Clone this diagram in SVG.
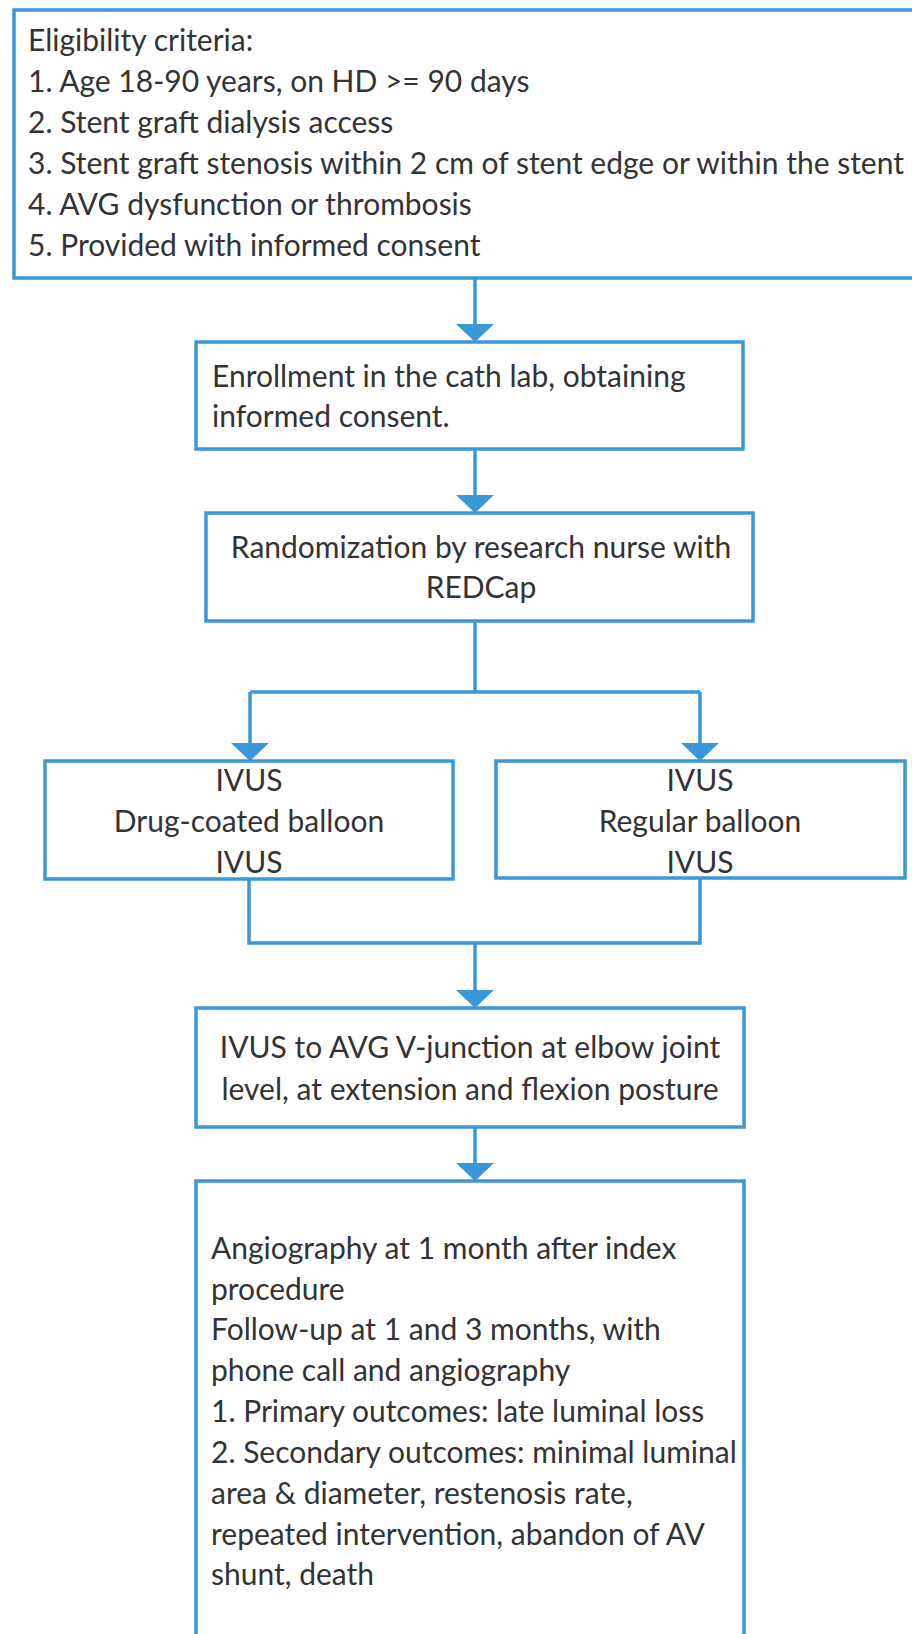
<svg xmlns="http://www.w3.org/2000/svg" width="912" height="1634" viewBox="0 0 912 1634">
<style>
.box{fill:#ffffff;stroke:#3a98d9;stroke-width:3.5}
.con{fill:none;stroke:#3a98d9;stroke-width:3.5}
.head{fill:#3a98d9}
text{font-family:Lato,"Liberation Sans",sans-serif;fill:#333333;font-size:30px}
.c{text-anchor:middle}
</style>
<defs>
<path id="ah" d="M-19,-18 H19 L0,0 Z"/>
</defs>
<rect x="0" y="0" width="912" height="1634" fill="#ffffff"/>
<g id="connectors">
<path class="con" d="M475,278 V326"/>
<use href="#ah" class="head" x="475" y="342"/>
<path class="con" d="M475,449 V497"/>
<use href="#ah" class="head" x="475" y="513"/>
<path class="con" d="M475,621 V692 M250,692 H700 M250,692 V745 M700,692 V745"/>
<use href="#ah" class="head" x="250" y="761"/>
<use href="#ah" class="head" x="700" y="761"/>
<path class="con" d="M249,879 V943 H700 V878 M475,943 V992"/>
<use href="#ah" class="head" x="475" y="1008"/>
<path class="con" d="M475,1127 V1165"/>
<use href="#ah" class="head" x="475" y="1181"/>
</g>
<g id="eligibility">
<rect class="box" x="14" y="10" width="910" height="268"/>
<text x="28" y="51">Eligibility criteria:</text>
<text x="28" y="92">1. Age 18-90 years, on HD &gt;= 90 days</text>
<text x="28" y="133">2. Stent graft dialysis access</text>
<text x="28" y="174">3. Stent graft stenosis within 2 cm of stent edge or within the stent</text>
<text x="28" y="215">4. AVG dysfunction or thrombosis</text>
<text x="28" y="256">5. Provided with informed consent</text>
</g>
<g id="enrollment">
<rect class="box" x="196" y="342" width="547" height="107"/>
<text x="212" y="387">Enrollment in the cath lab, obtaining</text>
<text x="212" y="427">informed consent.</text>
</g>
<g id="randomization">
<rect class="box" x="206" y="513" width="547" height="108"/>
<text class="c" x="481" y="558">Randomization by research nurse with</text>
<text class="c" x="481" y="598">REDCap</text>
</g>
<g id="dcb">
<rect class="box" x="45" y="761" width="408" height="118"/>
<text class="c" x="249" y="791">IVUS</text>
<text class="c" x="249" y="832">Drug-coated balloon</text>
<text class="c" x="249" y="873">IVUS</text>
</g>
<g id="regular">
<rect class="box" x="496" y="761" width="409" height="117"/>
<text class="c" x="700" y="791">IVUS</text>
<text class="c" x="700" y="832">Regular balloon</text>
<text class="c" x="700" y="873">IVUS</text>
</g>
<g id="ivus-junction">
<rect class="box" x="196" y="1008" width="548" height="119"/>
<text class="c" x="470" y="1058">IVUS to AVG V-junction at elbow joint</text>
<text class="c" x="470" y="1100">level, at extension and flexion posture</text>
</g>
<g id="followup">
<rect class="box" x="196" y="1181" width="548" height="470"/>
<text x="211" y="1259">Angiography at 1 month after index</text>
<text x="211" y="1300">procedure</text>
<text x="211" y="1340">Follow-up at 1 and 3 months, with</text>
<text x="211" y="1381">phone call and angiography</text>
<text x="211" y="1422">1. Primary outcomes: late luminal loss</text>
<text x="211" y="1463">2. Secondary outcomes: minimal luminal</text>
<text x="211" y="1504">area &amp; diameter, restenosis rate,</text>
<text x="211" y="1545">repeated intervention, abandon of AV</text>
<text x="211" y="1585">shunt, death</text>
</g>
</svg>
